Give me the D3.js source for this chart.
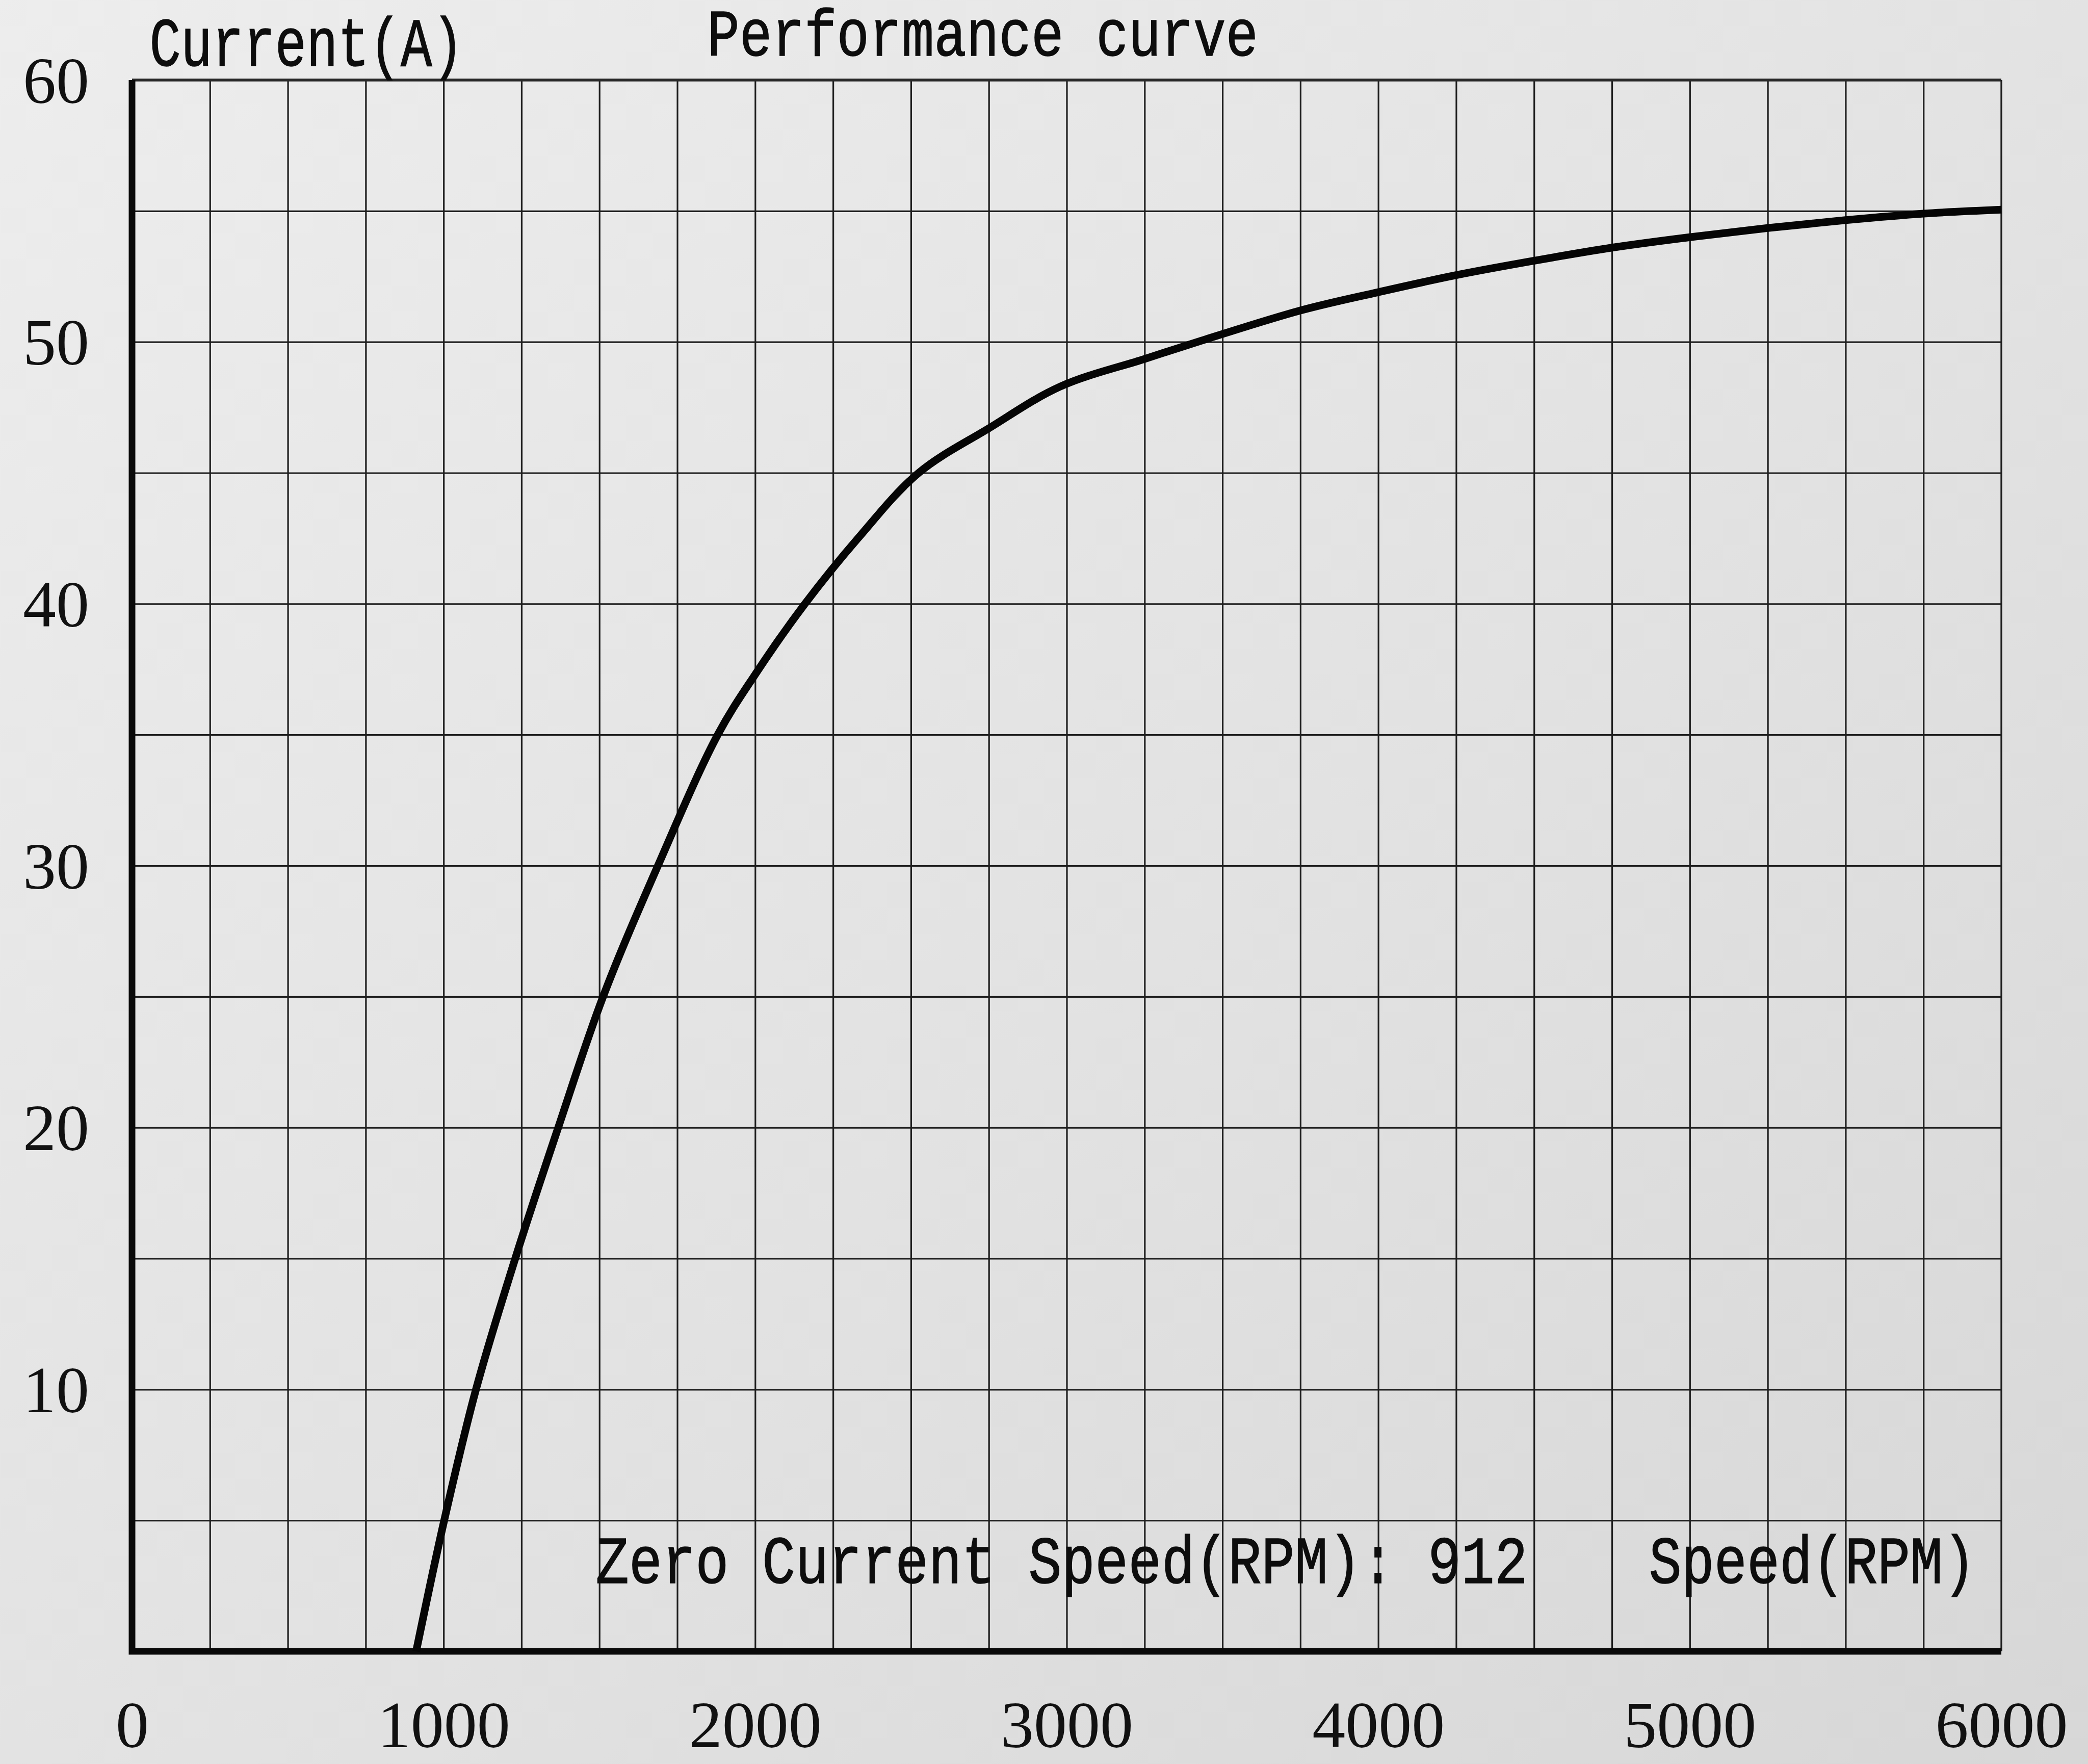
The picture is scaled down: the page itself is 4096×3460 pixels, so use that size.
<!DOCTYPE html>
<html>
<head>
<meta charset="utf-8">
<script src="https://cdn.jsdelivr.net/npm/d3@7"></script>
<style>
  html, body { margin: 0; padding: 0; background: #e2e2e2; }
  svg { display: block; }
  .tick-label { font-family: "Liberation Serif", "Times New Roman", serif; fill: #111; }
  .label { font-family: "Liberation Mono", "DejaVu Sans Mono", monospace; fill: #0d0d0d; stroke: #0d0d0d; stroke-width: 1.6; }
</style>
</head>
<body>
<svg id="chart"></svg>
<script>
// values
const speedTicks = [0, 1000, 2000, 3000, 4000, 5000, 6000];
const currentTicks = [10, 20, 30, 40, 50, 60];
const curveSpeed = [912, 1002, 1104, 1230, 1368, 1512, 1688, 1880, 2000, 2160, 2330, 2525, 2750, 2980, 3250, 3420, 3750, 4000, 4250, 4500, 4750, 5000, 5250, 5500, 5750, 6000];
const curveCurrent = [0, 5, 10, 15, 20, 25, 30, 35, 37.3, 40, 42.5, 45, 46.7, 48.3, 49.35, 50, 51.2, 51.9, 52.55, 53.1, 53.6, 54.0, 54.35, 54.65, 54.9, 55.05];
const zeroCurrentSpeed = 912;

const W = 4096, H = 3460;
const margin = {top: 157, right: 170, bottom: 221, left: 259};

const svg = d3.select("#chart").attr("width", W).attr("height", H);

// paper background
const grad = svg.append("defs").append("linearGradient")
  .attr("id", "paper").attr("x1", "0").attr("y1", "0").attr("x2", "1").attr("y2", "1");
grad.append("stop").attr("offset", "0").attr("stop-color", "#ededed");
grad.append("stop").attr("offset", "0.55").attr("stop-color", "#e2e2e2");
grad.append("stop").attr("offset", "1").attr("stop-color", "#d7d7d7");
svg.append("rect").attr("width", W).attr("height", H).attr("fill", "url(#paper)");

const x = d3.scaleLinear().domain([0, 6000]).range([margin.left, W - margin.right]);
const y = d3.scaleLinear().domain([0, 60]).range([H - margin.bottom, margin.top]);

const plotH = y(0) - y(60);
const plotW = x(6000) - x(0);

// grid: every 250 rpm and every 5 A
svg.append("g")
  .attr("transform", `translate(0,${y(0)})`)
  .call(d3.axisBottom(x).tickValues(d3.range(250, 6000, 250)).tickSize(-plotH).tickFormat(""))
  .call(g => g.select(".domain").remove())
  .call(g => g.selectAll("line").attr("stroke", "#1e1e1e").attr("stroke-width", 3.2));

svg.append("g")
  .attr("transform", `translate(${x(0)},0)`)
  .call(d3.axisLeft(y).tickValues(d3.range(5, 60, 5)).tickSize(-plotW).tickFormat(""))
  .call(g => g.select(".domain").remove())
  .call(g => g.selectAll("line").attr("stroke", "#1e1e1e").attr("stroke-width", 3.2));

// top and right borders
svg.append("line")
  .attr("x1", x(0)).attr("x2", x(6000)).attr("y1", y(60)).attr("y2", y(60))
  .attr("stroke", "#2a2a2a").attr("stroke-width", 5.5);
svg.append("line")
  .attr("x1", x(6000)).attr("x2", x(6000)).attr("y1", y(60)).attr("y2", y(0))
  .attr("stroke", "#1e1e1e").attr("stroke-width", 3.4);

// main axes (heavy L)
svg.append("path")
  .attr("d", `M${x(0)},${y(60)}V${y(0)}H${x(6000)}`)
  .attr("fill", "none").attr("stroke", "#0a0a0a").attr("stroke-width", 13)
  .attr("stroke-linejoin", "miter");

// tick labels
svg.append("g")
  .attr("transform", `translate(0,${y(0)})`)
  .call(d3.axisBottom(x).tickValues(speedTicks).tickSize(0).tickFormat(d3.format("d")))
  .call(g => g.select(".domain").remove())
  .call(g => g.selectAll("text")
    .attr("class", "tick-label")
    .attr("y", 188).attr("dy", 0)
    .style("font-size", "130px"));

svg.append("g")
  .attr("transform", `translate(${x(0)},0)`)
  .call(d3.axisLeft(y).tickValues(currentTicks).tickSize(0).tickFormat(d3.format("d")))
  .call(g => g.select(".domain").remove())
  .call(g => g.selectAll("text")
    .attr("class", "tick-label")
    .attr("x", -84).attr("dy", "0.34em")
    .style("font-size", "130px"));

// performance curve
const curveData = curveSpeed.map((s, i) => ({speed: s, current: curveCurrent[i]}));
const line = d3.line()
  .x(d => x(d.speed))
  .y(d => y(d.current))
  .curve(d3.curveCatmullRom.alpha(0.5));

svg.append("path")
  .datum(curveData)
  .attr("d", line)
  .attr("fill", "none")
  .attr("stroke", "#050505")
  .attr("stroke-width", 15)
  .attr("stroke-linejoin", "round");

// labels: condensed monospace, squeezed horizontally to the printed width
function label(text, x0, x1, yPos, size) {
  const t = svg.append("text")
    .attr("class", "label")
    .style("font-size", size + "px")
    .text(text);
  const natural = t.node().getComputedTextLength();
  const sx = (x1 - x0) / natural;
  t.attr("transform", `translate(${x0},${yPos}) scale(${sx},1)`);
}

label("Current(A)", x(56), x(1064), y(60) - 28, 136);
label("Performance curve", x(1846), x(3615), y(60) - 48, 130);
label(`Zero Current Speed(RPM): ${zeroCurrentSpeed}`, x(1488), x(4480), y(2.6), 132);
label("Speed(RPM)", x(4869), x(5917), y(2.6), 132);
</script>
</body>
</html>
